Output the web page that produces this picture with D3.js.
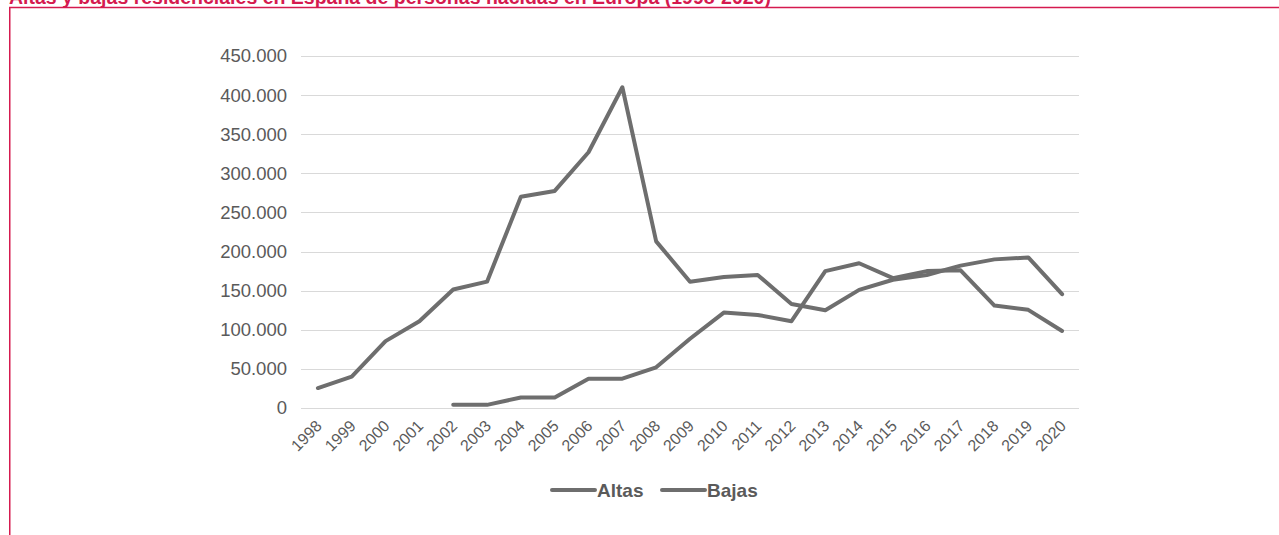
<!DOCTYPE html>
<html>
<head>
<meta charset="utf-8">
<script src="https://cdn.jsdelivr.net/npm/d3@7/dist/d3.min.js"></script>
<style>
  html, body { margin: 0; padding: 0; background: #fff; }
  svg { display: block; }
</style>
</head>
<body>
<svg id="chart" width="1279" height="535"></svg>
<script>
// Años del periodo
const years = ["1998","1999","2000","2001","2002","2003","2004","2005","2006","2007","2008",
  "2009","2010","2011","2012","2013","2014","2015","2016","2017","2018","2019","2020"];

// Altas residenciales (personas nacidas en Europa)
const altas = [25500, 40000, 85500, 111000, 151500, 161500, 270000, 277500, 327000, 410000, 213000,
  161500, 167500, 170000, 133000, 125000, 151000, 164000, 170000, 182000, 190000, 192500, 145500];

// Bajas residenciales (sin registro hasta 2002)
const bajas = [null, null, null, null, 4000, 4000, 13500, 13500, 37500, 37500, 52000,
  88500, 122000, 119000, 111000, 175000, 185000, 166000, 175000, 176000, 131000, 125500, 98500];

const yTicks = [0, 50000, 100000, 150000, 200000, 250000, 300000, 350000, 400000, 450000];
const seriesNames = ["Altas", "Bajas"];
const seriesValues = [altas, bajas];

const title = "Altas y bajas residenciales en España de personas nacidas en Europa (1998-2020)";

const svg = d3.select("#chart");
const W = 1279, H = 535;

const red = "#d51a4f";
const lineColor = "#6e6e6e";
const textColor = "#5a5a5a";
const font = "Liberation Sans, Arial, sans-serif";

// Título y marco
svg.append("text")
  .attr("x", 9).attr("y", 4)
  .attr("font-family", font)
  .attr("font-size", 19.5).attr("font-weight", "bold")
  .attr("fill", red)
  .text(title);

svg.append("line").attr("x1", 9).attr("x2", W).attr("y1", 7.5).attr("y2", 7.5)
  .attr("stroke", red).attr("stroke-width", 1.5);
svg.append("line").attr("x1", 9.75).attr("x2", 9.75).attr("y1", 7).attr("y2", H)
  .attr("stroke", red).attr("stroke-width", 1.5);

// Escalas
const plot = { left: 301, right: 1079, top: 56, bottom: 408 };

const x = d3.scaleBand().domain(years).range([plot.left, plot.right]);
const y = d3.scaleLinear().domain([0, 450000]).range([plot.bottom, plot.top]);

const fmt = d => d === 0 ? "0" : d3.format(",")(d).replace(/,/g, ".");

// Líneas de cuadrícula
svg.append("g")
  .selectAll("line").data(yTicks).join("line")
  .attr("x1", plot.left).attr("x2", plot.right)
  .attr("y1", d => Math.round(y(d)) + 0.5).attr("y2", d => Math.round(y(d)) + 0.5)
  .attr("stroke", "#d9d9d9").attr("stroke-width", 1);

// Eje Y
const yAxis = svg.append("g")
  .attr("transform", `translate(${plot.left - 14},0)`)
  .call(d3.axisLeft(y).tickValues(yTicks).tickFormat(fmt).tickSize(0).tickPadding(0));
yAxis.select(".domain").remove();
yAxis.selectAll("text")
  .attr("font-family", font)
  .attr("font-size", 18.5).attr("fill", textColor);

// Eje X con etiquetas giradas
const xAxis = svg.append("g")
  .attr("transform", `translate(0,${plot.bottom})`)
  .call(d3.axisBottom(x).tickSize(0).tickPadding(0));
xAxis.select(".domain").remove();
xAxis.selectAll("text")
  .attr("font-family", font)
  .attr("font-size", 16).attr("fill", textColor)
  .attr("text-anchor", "end")
  .attr("dy", 0)
  .attr("transform", "translate(5,19) rotate(-45)");

// Series
const line = d3.line()
  .defined(d => d.v != null)
  .x(d => x(d.year) + x.bandwidth() / 2)
  .y(d => y(d.v));

seriesValues.forEach((vals, i) => {
  const pts = years.map((yr, k) => ({ year: yr, v: vals[k] }));
  svg.append("path")
    .datum(pts)
    .attr("fill", "none")
    .attr("stroke", lineColor)
    .attr("stroke-width", 4)
    .attr("stroke-linejoin", "round")
    .attr("stroke-linecap", "round")
    .attr("d", line);
});

// Leyenda
const legend = svg.append("g").attr("transform", "translate(552,490)");
const legendItems = [{ name: seriesNames[0], x: 0 }, { name: seriesNames[1], x: 110 }];
legendItems.forEach(it => {
  const g = legend.append("g").attr("transform", `translate(${it.x},0)`);
  g.append("line").attr("x1", 0).attr("x2", 43).attr("y1", 0).attr("y2", 0)
    .attr("stroke", lineColor).attr("stroke-width", 4).attr("stroke-linecap", "round");
  g.append("text").attr("x", 45).attr("y", 6.5)
    .attr("font-family", font)
    .attr("font-size", 19).attr("font-weight", "bold").attr("fill", textColor)
    .text(it.name);
});
</script>
</body>
</html>
